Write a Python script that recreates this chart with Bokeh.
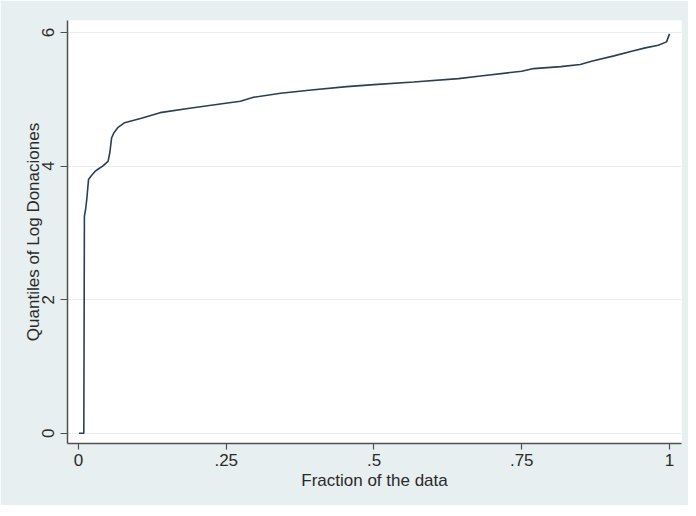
from bokeh.plotting import figure
from bokeh.models import FixedTicker, Range1d
from bokeh.embed import file_html
from bokeh.resources import INLINE

# Quantile plot data (fraction of data, quantile of log donaciones)
fraction = [0.001, 0.009, 0.010, 0.012, 0.014, 0.017, 0.022, 0.028, 0.034, 0.041,
            0.050, 0.053, 0.056, 0.060, 0.067, 0.078, 0.108, 0.138, 0.191, 0.249,
            0.274, 0.296, 0.342, 0.394, 0.454, 0.500, 0.567, 0.643, 0.680, 0.750,
            0.770, 0.816, 0.849, 0.868, 0.906, 0.936, 0.959, 0.981, 0.995, 1.000]
quantiles = [0.0, 0.0, 3.25, 3.35, 3.5, 3.8, 3.86, 3.92, 3.96, 4.0,
             4.07, 4.2, 4.42, 4.5, 4.58, 4.65, 4.72, 4.8, 4.87, 4.94,
             4.97, 5.03, 5.09, 5.14, 5.19, 5.22, 5.26, 5.31, 5.35, 5.42,
             5.46, 5.49, 5.52, 5.57, 5.65, 5.72, 5.77, 5.81, 5.86, 5.98]

x_ticks = [0, 0.25, 0.5, 0.75, 1]
x_tick_labels = {0: "0", 0.25: ".25", 0.5: ".5", 0.75: ".75", 1: "1"}
y_ticks = [0, 2, 4, 6]

FONT = "Liberation Sans"
TXT = "#2a2a2a"
AX = "#505050"

p = figure(width=688, height=505, output_backend="svg", toolbar_location=None,
           x_range=Range1d(-0.0186, 1.0203), y_range=Range1d(-0.154, 6.18),
           min_border_left=67, min_border_right=7, min_border_top=20, min_border_bottom=62)
p.border_fill_color = "#E8EFF1"
p.background_fill_color = "white"
p.outline_line_color = None

p.line(fraction, quantiles, line_color="#2b3f50", line_width=1.6)

p.xaxis.ticker = FixedTicker(ticks=x_ticks)
p.xaxis.major_label_overrides = x_tick_labels
p.yaxis.ticker = FixedTicker(ticks=y_ticks)
p.yaxis.major_label_orientation = "vertical"

for ax in (p.xaxis[0], p.yaxis[0]):
    ax.axis_line_color = AX
    ax.axis_line_width = 1.5
    ax.major_tick_line_color = AX
    ax.major_tick_line_width = 1.2
    ax.major_tick_in = 0
    ax.minor_tick_line_color = None
    ax.major_label_text_font = FONT
    ax.major_label_text_font_size = "17px"
    ax.major_label_text_color = TXT
    ax.axis_label_text_font = FONT
    ax.axis_label_text_font_size = "17px"
    ax.axis_label_text_font_style = "normal"
    ax.axis_label_text_color = TXT

p.xaxis.major_tick_out = 6
p.yaxis.major_tick_out = 7
p.xaxis.major_label_standoff = 4
p.yaxis.major_label_standoff = 6
p.xaxis.axis_label = "Fraction of the data"
p.yaxis.axis_label = "Quantiles of Log Donaciones"
p.xaxis.axis_label_standoff = 2
p.yaxis.axis_label_standoff = -3

p.xgrid.grid_line_color = None
p.ygrid.grid_line_color = "#EAEEEF"
p.ygrid.grid_line_width = 1.2

open("out.html", "w").write(file_html(p, INLINE))
